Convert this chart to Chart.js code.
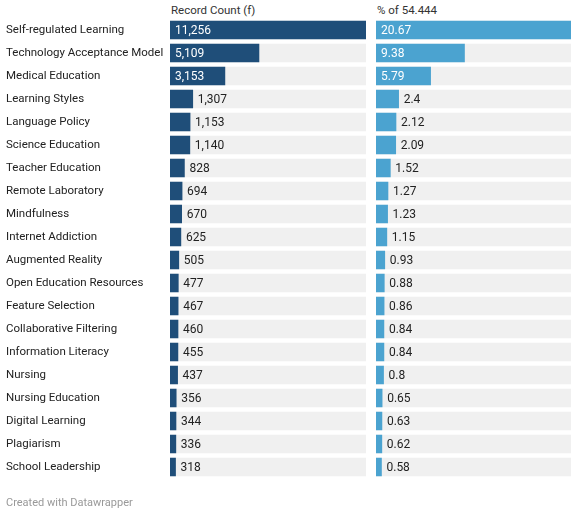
<!DOCTYPE html>
<html>
<head>
<meta charset="utf-8">
<script src="https://cdn.jsdelivr.net/npm/chart.js@4/dist/chart.umd.min.js"></script>
<style>
  html, body { margin: 0; padding: 0; background: #fff; }
  body { width: 576px; height: 511px; position: relative; overflow: hidden; font-family: Roboto, sans-serif; }
  canvas { position: absolute; top: 0; }
  .head { position: absolute; top: 3px; font-size: 11.5px; color: #333; }
  .foot { position: absolute; left: 6px; top: 496px; font-size: 11px; color: #999; }
</style>
</head>
<body>
<div class="head" style="left:171px">Record Count (f)</div>
<div class="head" style="left:377px">% of 54.444</div>
<canvas id="left" width="370" height="511" style="left:0"></canvas>
<canvas id="right" width="206" height="511" style="left:370px"></canvas>
<div class="foot">Created with Datawrapper</div>
<script>
var topics = ['Self-regulated Learning', 'Technology Acceptance Model', 'Medical Education',
    'Learning Styles', 'Language Policy', 'Science Education', 'Teacher Education',
    'Remote Laboratory', 'Mindfulness', 'Internet Addiction', 'Augmented Reality',
    'Open Education Resources', 'Feature Selection', 'Collaborative Filtering',
    'Information Literacy', 'Nursing', 'Nursing Education', 'Digital Learning',
    'Plagiarism', 'School Leadership'];
var recordCount = [11256, 5109, 3153, 1307, 1153, 1140, 828, 694, 670, 625,
    505, 477, 467, 460, 455, 437, 356, 344, 336, 318];
var percent = [20.67, 9.38, 5.79, 2.4, 2.12, 2.09, 1.52, 1.27, 1.23, 1.15,
    0.93, 0.88, 0.86, 0.84, 0.84, 0.8, 0.65, 0.63, 0.62, 0.58];

var darkBlue = '#1f4e79';
var lightBlue = '#4ba3d0';
var track = '#f0f0f0';
var font = { family: 'Roboto', size: 11.5 };

// writes each value inside the bar if it fits, otherwise just after it
var valueLabels = {
    id: 'valueLabels',
    afterDatasetsDraw: function (chart, args, opts) {
        var ctx = chart.ctx;
        var meta = chart.getDatasetMeta(1);
        var values = chart.data.datasets[1].data;
        ctx.save();
        ctx.font = '12px Roboto';
        ctx.textBaseline = 'middle';
        ctx.textAlign = 'left';
        meta.data.forEach(function (bar, i) {
            var text = opts.format(values[i]);
            var w = ctx.measureText(text).width;
            var barWidth = bar.x - bar.base;
            if (w + 10 <= barWidth) {
                ctx.fillStyle = '#fff';
                ctx.fillText(text, bar.base + 5, bar.y + 1);
            } else {
                ctx.fillStyle = '#222';
                ctx.fillText(text, bar.x + 5, bar.y + 1);
            }
        });
        ctx.restore();
    }
};

function makeConfig(values, color, padding, labelWidth, format) {
    var max = Math.max.apply(null, values);
    return {
        type: 'bar',
        data: {
            labels: topics,
            datasets: [{
                data: values.map(function () { return max; }),
                backgroundColor: track,
                grouped: false,
                order: 2
            }, {
                data: values,
                backgroundColor: color,
                grouped: false,
                order: 1
            }]
        },
        options: {
            indexAxis: 'y',
            responsive: false,
            animation: false,
            layout: { padding: padding },
            datasets: { bar: { barThickness: 18, borderWidth: 0 } },
            scales: {
                x: { display: false, min: 0, max: max },
                y: {
                    display: labelWidth > 0,
                    grid: { display: false },
                    border: { display: false },
                    ticks: { font: font, color: '#222', crossAlign: 'far', padding: 0 },
                    afterFit: function (scale) { scale.width = labelWidth; }
                }
            },
            plugins: {
                legend: { display: false },
                tooltip: { enabled: false },
                valueLabels: { format: format }
            }
        },
        plugins: [valueLabels]
    };
}

new Chart(document.getElementById('left').getContext('2d'),
    makeConfig(recordCount, darkBlue, { left: 6, right: 4, top: 18.5, bottom: 32.5 }, 164,
        function (v) { return v.toLocaleString('en-US'); }));
new Chart(document.getElementById('right').getContext('2d'),
    makeConfig(percent, lightBlue, { left: 6, right: 5, top: 18.5, bottom: 32.5 }, 0,
        function (v) { return String(v); }));
</script>
</body>
</html>
